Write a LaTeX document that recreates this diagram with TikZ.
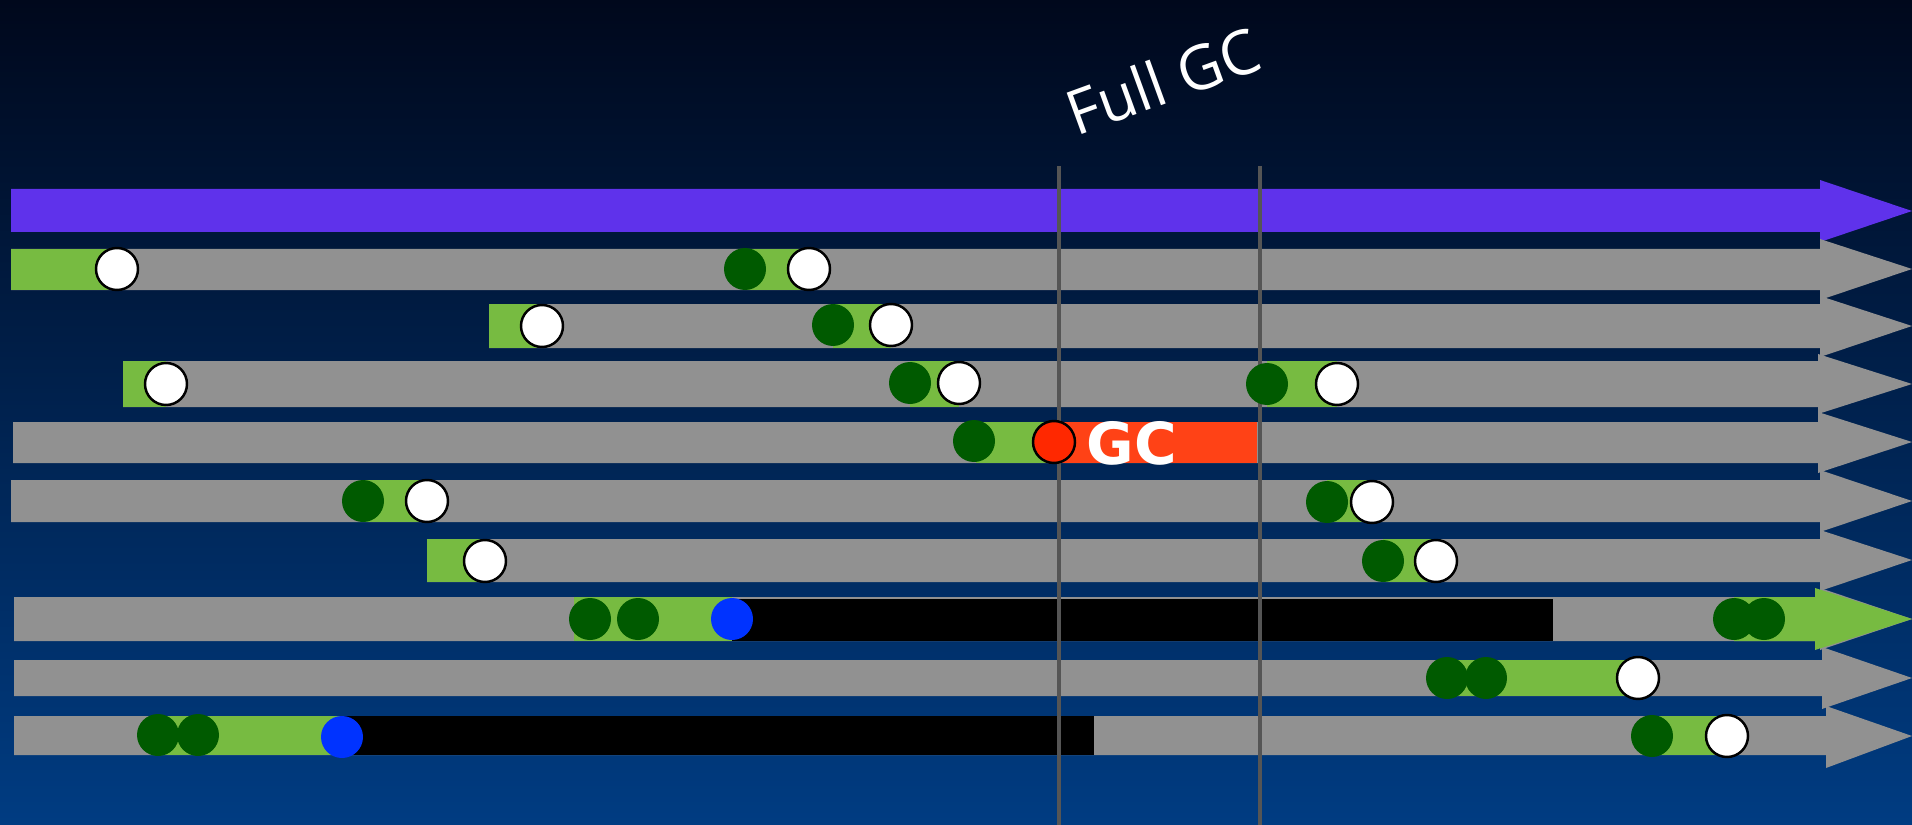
\documentclass[tikz,border=0pt]{standalone}
\usepackage{fontspec}
\usepackage{tikz}
\usepackage{xcolor}
\usetikzlibrary{positioning}
\newfontfamily\gcfont{DejaVu Sans}
\newfontfamily\titlefont{Open Sans}
\definecolor{cTop}{RGB}{0,8,28}
\definecolor{cBottom}{RGB}{0,60,130}
\definecolor{cPurple}{RGB}{95,50,235}
\definecolor{cGray}{RGB}{145,145,145}
\definecolor{cGreen}{RGB}{119,187,65}
\definecolor{cDark}{RGB}{0,90,0}
\definecolor{cRed}{RGB}{255,40,0}
\definecolor{cOrange}{RGB}{255,66,22}
\definecolor{cBlue}{RGB}{0,51,255}
\definecolor{cLine}{RGB}{85,85,85}
\tikzset{
	lane/.style     ={fill=cGray},
	live/.style     ={fill=cGreen},
	held/.style     ={fill=black},
	% object markers
	objnew/.style   ={circle, minimum size=4.2mm, inner sep=0pt, fill=cDark},
	objfree/.style  ={circle, minimum size=4.2mm, inner sep=0pt, fill=white, draw=black, line width=0.7pt},
	objleak/.style  ={circle, minimum size=4.2mm, inner sep=0pt, fill=cBlue},
	objgc/.style    ={circle, minimum size=4.2mm, inner sep=0pt, fill=cRed, draw=black, line width=0.7pt},
	gcmark/.style   ={line width=0.4mm, cLine},
}

\begin{document}
\begin{tikzpicture}[x=0.1mm, y=-0.1mm]
	% background
	\shade[top color=cTop, bottom color=cBottom] (0,0) rectangle (1912,825);
	\useasboundingbox (0,0) rectangle (1912,825);
	% time line
	\fill[cPurple] (11,189) -- (1820,189) -- (1820,180) -- (1912,211) -- (1820,242) -- (1820,232) -- (11,232) -- cycle;
	% thread lanes
	\fill[lane] (11,249) -- (1820,249) -- (1820,239) -- (1912,269) -- (1820,300) -- (1820,290) -- (11,290) -- cycle;
	\fill[lane] (489,304) -- (1820,304) -- (1820,296) -- (1912,326) -- (1820,357) -- (1820,348) -- (489,348) -- cycle;
	\fill[lane] (123,361) -- (1818,361) -- (1818,354) -- (1912,384) -- (1818,414) -- (1818,407) -- (123,407) -- cycle;
	\fill[lane] (13,422) -- (1818,422) -- (1818,412) -- (1912,442) -- (1818,473) -- (1818,463) -- (13,463) -- cycle;
	\fill[lane] (11,480) -- (1820,480) -- (1820,470) -- (1912,501) -- (1820,532) -- (1820,522) -- (11,522) -- cycle;
	\fill[lane] (427,539) -- (1820,539) -- (1820,530) -- (1912,560) -- (1820,591) -- (1820,582) -- (427,582) -- cycle;
	\fill[lane] (14,597) -- (1820,597) -- (1820,588) -- (1912,619) -- (1820,650) -- (1820,641) -- (14,641) -- cycle;
	\fill[lane] (14,660) -- (1822,660) -- (1822,647) -- (1912,678) -- (1822,709) -- (1822,696) -- (14,696) -- cycle;
	\fill[lane] (14,716) -- (1826,716) -- (1826,706) -- (1912,736) -- (1826,768) -- (1826,755) -- (14,755) -- cycle;
	% live spans
	\fill[live] (11,249) rectangle (117,290);
	\fill[live] (745,249) rectangle (809,290);
	\fill[live] (489,304) rectangle (542,348);
	\fill[live] (833,304) rectangle (891,348);
	\fill[live] (123,361) rectangle (166,407);
	\fill[live] (910,361) rectangle (959,407);
	\fill[live] (1267,361) rectangle (1337,407);
	\fill[live] (976,422) rectangle (1054,463);
	\fill[cOrange] (1054,422) rectangle (1257,463);
	\fill[live] (363,480) rectangle (427,522);
	\fill[live] (1327,480) rectangle (1372,522);
	\fill[live] (427,539) rectangle (485,582);
	\fill[live] (1383,539) rectangle (1436,582);
	\fill[live] (574,597) rectangle (732,641);
	\fill[held] (732,599) rectangle (1553,641);
	\fill[live] (1734,597) -- (1815,597) -- (1815,588) -- (1912,619) -- (1815,650) -- (1815,641) -- (1734,641) -- cycle;
	\fill[live] (1447,660) rectangle (1638,696);
	\fill[live] (159,716) rectangle (342,755);
	\fill[held] (342,716) rectangle (1094,755);
	\fill[live] (1652,716) rectangle (1727,755);
	% full GC window
	\coordinate (gcA top) at (1059,166);
	\coordinate (gcA bot) at (1059,825);
	\coordinate (gcB top) at (1260,166);
	\coordinate (gcB bot) at (1260,825);
	\draw[gcmark] (gcA top) -- (gcA bot);
	\draw[gcmark] (gcB top) -- (gcB bot);
	\node[rotate=20, anchor=base west, inner sep=0pt, text=white, font=\titlefont\fontsize{17.5}{20}\selectfont] (fullgc) at (1076,137) {Full GC};
	\node[text=white, font=\gcfont\bfseries\fontsize{16.5}{18}\selectfont] (gclabel) at (1132,443) {GC};
	% objects
	\node[objfree] (a1) at (117,269) {};
	\node[objnew]  (a2) at (745,269) {};
	\node[objfree] (a3) at (809,269) {};
	\node[objfree] (b1) at (542,326) {};
	\node[objnew]  (b2) at (833,325) {};
	\node[objfree] (b3) at (891,325) {};
	\node[objfree] (c1) at (166,384) {};
	\node[objnew]  (c2) at (910,383) {};
	\node[objfree] (c3) at (959,383) {};
	\node[objnew]  (c4) at (1267,384) {};
	\node[objfree] (c5) at (1337,384) {};
	\node[objnew]  (d1) at (974,441) {};
	\node[objgc]   (d2) at (1054,442) {};
	\node[objnew]  (e1) at (363,501) {};
	\node[objfree] (e2) at (427,501) {};
	\node[objnew]  (e3) at (1327,502) {};
	\node[objfree] (e4) at (1372,502) {};
	\node[objfree] (f1) at (485,561) {};
	\node[objnew]  (f2) at (1383,561) {};
	\node[objfree] (f3) at (1436,561) {};
	\node[objnew]  (g1) at (590,619) {};
	\node[objnew]  (g2) at (638,619) {};
	\node[objleak] (g3) at (732,619) {};
	\node[objnew]  (g4) at (1734,619) {};
	\node[objnew]  (g5) at (1764,619) {};
	\node[objnew]  (h1) at (1447,678) {};
	\node[objnew]  (h2) at (1486,678) {};
	\node[objfree] (h3) at (1638,678) {};
	\node[objnew]  (i1) at (158,735) {};
	\node[objnew]  (i2) at (198,735) {};
	\node[objleak] (i3) at (342,737) {};
	\node[objnew]  (i4) at (1652,736) {};
	\node[objfree] (i5) at (1727,736) {};
\end{tikzpicture}
\end{document}
